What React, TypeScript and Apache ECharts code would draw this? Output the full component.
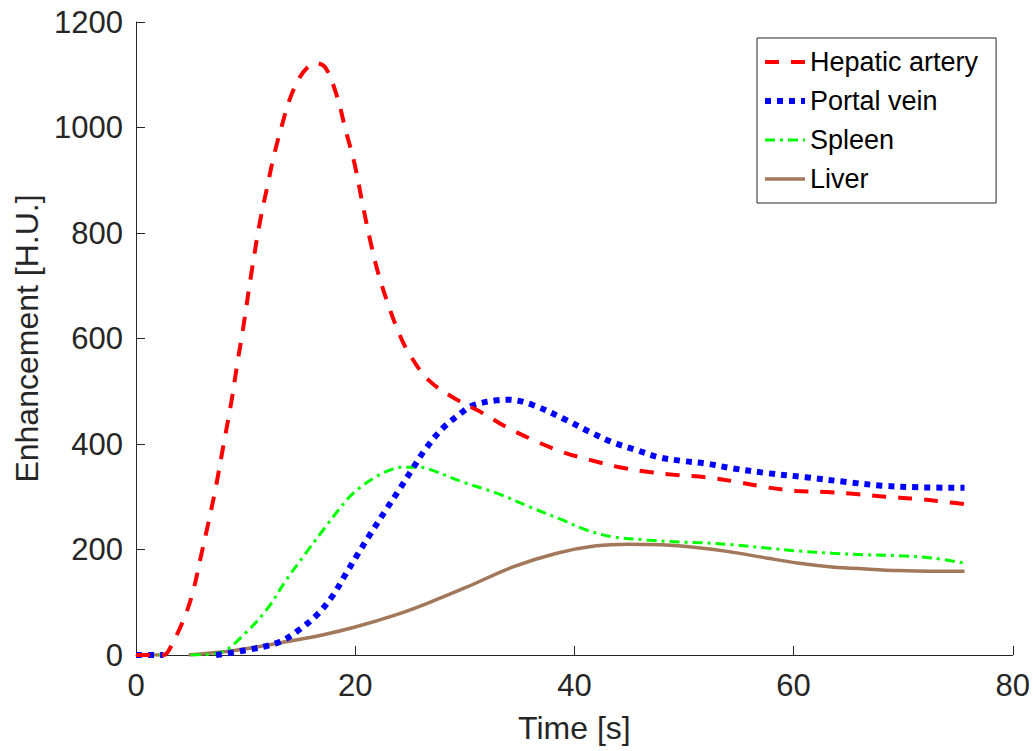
import React, { useEffect, useRef } from "react";
import * as echarts from "echarts";

const seriesNames = ["Hepatic artery", "Portal vein", "Spleen", "Liver"];

const hepaticArtery: (number | null)[][] = [
  [0, 0], [2.5, 0], [3.0, 9], [4.4, 70], [5.2, 120], [5.9, 185], [6.6, 250], [7.3, 320],
  [8.0, 400], [8.7, 480], [9.3, 560], [9.75, 616], [10.5, 720], [11.3, 820], [12.0, 890],
  [12.6, 948], [13.3, 1003], [14.0, 1052], [14.9, 1094], [15.8, 1117], [16.4, 1122],
  [17.3, 1113], [18.4, 1055], [19.1, 997], [19.9, 935], [20.7, 852], [21.4, 783],
  [22.1, 724], [23.0, 665], [24.0, 610], [24.9, 572], [26.7, 521], [29.2, 485],
  [31.6, 459], [33.8, 432], [36.2, 408], [38.9, 385], [41.4, 370], [44.1, 356],
  [46.8, 347], [49.4, 341], [52.0, 337], [54.9, 328], [57.5, 318], [60.2, 311],
  [63.0, 309], [65.7, 305], [68.4, 300], [71.2, 296], [73.9, 290], [75.6, 286],
];

const portalVein: (number | null)[][] = [
  [0, 0], [2.5, 0], [4.9, null], [7.3, 0], [10.0, 9], [13.0, 24], [14.9, 48], [16.6, 78],
  [18.0, 114], [19.1, 152], [20.2, 190], [21.4, 230], [22.8, 275], [24.0, 313],
  [25.2, 352], [26.4, 390], [28.0, 430], [29.8, 461], [30.7, 473], [32.9, 483],
  [33.9, 484], [36.2, 474], [39.3, 445], [41.4, 423], [43.4, 404], [45.6, 389],
  [47.7, 375], [49.8, 368], [52.0, 363], [54.4, 354], [57.5, 345], [61.1, 337],
  [64.8, 328], [68.1, 321], [71.4, 318], [75.6, 317],
];

const spleen: (number | null)[][] = [
  [0, 0], [2.5, 0], [3.7, null], [5.0, 0], [7.6, 4], [10.0, 42], [12.1, 91], [13.7, 142],
  [15.5, 193], [17.3, 243], [19.4, 298], [20.6, 320], [21.9, 338], [23.1, 350],
  [24.3, 356], [25.8, 356], [26.8, 352], [29.8, 328], [32.9, 307], [35.9, 281],
  [38.9, 256], [41.1, 237], [43.5, 224], [46.6, 218], [49.6, 214], [51.4, 213],
  [54.4, 209], [57.5, 203], [60.5, 197], [63.5, 193], [66.6, 190], [69.6, 188],
  [72.6, 184], [75.6, 174],
];

const liver: (number | null)[][] = [
  [0, 0], [2.5, 0], [3.7, null], [4.8, 0], [9.1, 9], [13.7, 25], [17.0, 38], [20.0, 53],
  [23.7, 76], [26.7, 99], [30.1, 128], [34.4, 167], [38.4, 193], [42.0, 207],
  [45.0, 210], [48.0, 209], [51.1, 204], [54.1, 196], [57.5, 184], [60.5, 174],
  [63.5, 167], [66.6, 163], [69.6, 160], [72.6, 159], [75.6, 159],
];

const xTicks = { min: 0, max: 80, interval: 20 };
const yTicks = { min: 0, max: 1200, interval: 200 };

const FONT = "'Liberation Sans', Arial, Helvetica, sans-serif";
const AXIS_COLOR = "#262626";

const lineStyles = [
  { color: "#ff0000", width: 4, type: [14, 12], cap: "butt" },
  { color: "#0000ff", width: 6, type: [6, 6], cap: "butt" },
  { color: "#00ff00", width: 3, type: [10, 5, 3, 5], cap: "butt" },
  { color: "#a2775a", width: 3.5, type: "solid" },
];

export default function App() {
  const ref = useRef<HTMLDivElement>(null);

  useEffect(() => {
    if (!ref.current) return;
    const chart = echarts.init(ref.current, undefined, { renderer: "svg" });
    const axisCommon = {
      axisLine: { show: true, lineStyle: { color: AXIS_COLOR, width: 1 } },
      axisTick: { show: true, inside: true, length: 9, lineStyle: { color: AXIS_COLOR } },
      splitLine: { show: false },
      nameTextStyle: { fontFamily: FONT, fontSize: 32, color: AXIS_COLOR },
    };
    const dataSets = [hepaticArtery, portalVein, spleen, liver];
    chart.setOption({
      animation: false,
      backgroundColor: "#ffffff",
      grid: { left: 136, right: 19, top: 22, bottom: 96, containLabel: false },
      xAxis: {
        type: "value",
        ...xTicks,
        ...axisCommon,
        name: "Time [s]",
        nameLocation: "middle",
        nameGap: 57,
        axisLabel: { fontFamily: FONT, fontSize: 31, color: AXIS_COLOR, margin: 15, formatter: (v: number) => String(v) },
      },
      yAxis: {
        type: "value",
        ...yTicks,
        ...axisCommon,
        name: "Enhancement [H.U.]",
        nameLocation: "middle",
        nameGap: 90,
        axisLabel: { fontFamily: FONT, fontSize: 31, color: AXIS_COLOR, margin: 13, formatter: (v: number) => String(v) },
      },
      legend: {
        orient: "vertical",
        left: 757,
        top: 38,
        padding: [9, 18, 9, 5],
        itemGap: 9,
        itemWidth: 40,
        itemHeight: 20,
        borderColor: AXIS_COLOR,
        borderWidth: 1,
        backgroundColor: "#ffffff",
        itemStyle: { opacity: 0, borderWidth: 0 },
        textStyle: { fontFamily: FONT, fontSize: 27, color: "#000000", lineHeight: 30 },
        data: seriesNames.map((name, i) => ({
          name,
          lineStyle: { width: lineStyles[i].width, color: lineStyles[i].color, type: lineStyles[i].type, cap: "butt" },
        })),
      },
      series: seriesNames.map((name, i) => ({
        name,
        type: "line",
        data: dataSets[i],
        symbol: "none",
        smooth: 0.35,
        lineStyle: lineStyles[i],
        itemStyle: { color: lineStyles[i].color },
        z: 4 - i,
      })),
    });
    return () => chart.dispose();
  }, []);

  return <div ref={ref} style={{ width: 1033, height: 751, position: "fixed", left: 0, top: 0 }} />;
}
